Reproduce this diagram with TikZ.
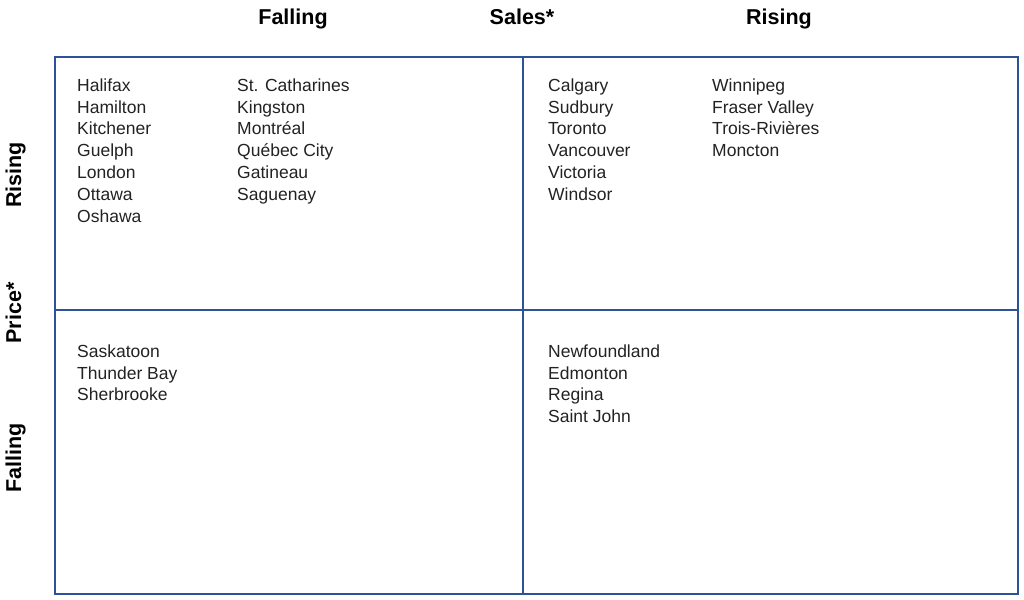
\documentclass[tikz,border=0pt]{standalone}
\usepackage{fontspec}
\setmainfont{Liberation Sans}
\definecolor{gridblue}{HTML}{2D5295}
\definecolor{txt}{HTML}{222222}
\begin{document}
\begin{tikzpicture}[x=1pt,y=-1pt,
  cell/.style={anchor=north west,inner sep=0pt,align=left,text=txt,font=\fontsize{17.5}{21.8}\selectfont},
  head/.style={inner sep=0pt,anchor=base,text=black,font=\fontsize{21.5}{24}\selectfont\bfseries},
  gridline/.style={draw=gridblue,line width=2pt}]
\useasboundingbox (0,0) rectangle (1024,599);
% grid
\coordinate (tl) at (55,57);
\coordinate (br) at (1018,594);
\coordinate (mt) at (523,57);
\coordinate (mb) at (523,594);
\coordinate (ml) at (55,310);
\coordinate (mr) at (1018,310);
\draw[gridline] (tl) rectangle (br);
\draw[gridline] (mt) -- (mb);
\draw[gridline] (ml) -- (mr);
% headers
\node[head] (hfall) at (293,24.5) {Falling};
\node[head] (hsales) at (522,24.5) {Sales*};
\node[head] (hrise) at (779,24.5) {Rising};
\node[head,rotate=90] (vrise) at (21,175) {Rising};
\node[head,rotate=90] (vprice) at (21,313) {Price*};
\node[head,rotate=90] (vfall) at (21,458) {Falling};
% cells
\node[cell] (c1) at (77,78.5) {Halifax\\Hamilton\\Kitchener\\Guelph\\London\\Ottawa\\Oshawa};
\node[cell] (c2) at (237,78.5) {St. Catharines\\Kingston\\Montréal\\Québec City\\Gatineau\\Saguenay};
\node[cell] (c3) at (548,78.5) {Calgary\\Sudbury\\Toronto\\Vancouver\\Victoria\\Windsor};
\node[cell] (c4) at (712,78.5) {Winnipeg\\Fraser Valley\\Trois-Rivières\\Moncton};
\node[cell] (c5) at (77,344.5) {Saskatoon\\Thunder Bay\\Sherbrooke};
\node[cell] (c6) at (548,344.5) {Newfoundland\\Edmonton\\Regina\\Saint John};
\end{tikzpicture}
\end{document}
